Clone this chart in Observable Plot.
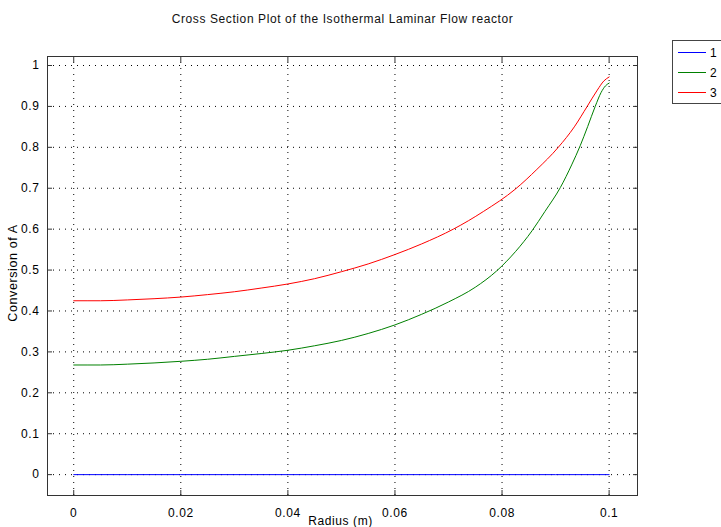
<!DOCTYPE html>
<html>
<head>
<meta charset="utf-8">
<script src="https://cdn.jsdelivr.net/npm/d3@7"></script>
<script src="https://cdn.jsdelivr.net/npm/@observablehq/plot@0.6"></script>
<style>
  html, body { margin: 0; padding: 0; background: #fff; }
  #wrap { position: relative; width: 721px; height: 527px; overflow: hidden; font-family: "Liberation Sans", Arial, sans-serif; }
  #legend { position: absolute; left: 672px; top: 40px; }
</style>
</head>
<body>
<div id="wrap"><div id="chart"></div><div id="legend"></div></div>
<script>
const title = "Cross Section Plot of the Isothermal Laminar Flow reactor";
const xLabel = "Radius (m)";
const yLabel = "Conversion of A";
const seriesNames = ["1", "2", "3"];
const seriesColors = ["#0000ff", "#008000", "#ff0000"];

const radius1 = [0, 0.02, 0.04, 0.06, 0.08, 0.1];
const conv1 = [0, 0, 0, 0, 0, 0];
const radius2 = [0, 0.005, 0.01, 0.015, 0.02, 0.025, 0.03, 0.035, 0.04, 0.045, 0.05, 0.055, 0.06, 0.065, 0.07, 0.075, 0.079, 0.0825, 0.0856, 0.088, 0.0909, 0.093, 0.0946, 0.096, 0.0974, 0.0985, 0.0993, 0.1];
const conv2 = [0.268, 0.268, 0.270, 0.273, 0.277, 0.282, 0.289, 0.296, 0.304, 0.315, 0.328, 0.345, 0.366, 0.392, 0.422, 0.458, 0.498, 0.545, 0.596, 0.643, 0.702, 0.757, 0.804, 0.851, 0.900, 0.934, 0.950, 0.957];
const radius3 = [0, 0.005, 0.01, 0.015, 0.02, 0.025, 0.03, 0.035, 0.04, 0.045, 0.05, 0.055, 0.06, 0.065, 0.0709, 0.0765, 0.0825, 0.0865, 0.0905, 0.0935, 0.0959, 0.0978, 0.099, 0.1];
const conv3 = [0.425, 0.425, 0.427, 0.430, 0.434, 0.440, 0.447, 0.456, 0.466, 0.479, 0.496, 0.515, 0.538, 0.564, 0.600, 0.643, 0.698, 0.746, 0.800, 0.850, 0.900, 0.940, 0.962, 0.972];

const xTicks = [0, 0.02, 0.04, 0.06, 0.08, 0.1];
const xTickLabels = ["0", "0.02", "0.04", "0.06", "0.08", "0.1"];
const yTicks = [0, 0.1, 0.2, 0.3, 0.4, 0.5, 0.6, 0.7, 0.8, 0.9, 1];
const yTickLabels = ["0", "0.1", "0.2", "0.3", "0.4", "0.5", "0.6", "0.7", "0.8", "0.9", "1"];

const radii = [radius1, radius2, radius3];
const convs = [conv1, conv2, conv3];
const data = [];
convs.forEach((vals, si) => vals.forEach((v, i) => data.push({r: radii[si][i], c: v, s: seriesNames[si]})));

const fmtX = d => xTickLabels[xTicks.indexOf(d)] ?? "";
const fmtY = d => yTickLabels[yTicks.indexOf(d)] ?? "";

const chart = Plot.plot({
  width: 721,
  height: 527,
  marginLeft: 47,
  marginRight: 84,
  marginTop: 56,
  marginBottom: 32,
  style: {fontFamily: "'Liberation Sans', Arial, sans-serif", fontSize: "12px", color: "#000", background: "#fff", letterSpacing: "0.6px"},
  x: {domain: [-0.0049, 0.1053]},
  y: {domain: [-0.051, 1.022]},
  color: {domain: seriesNames.slice(), range: seriesColors.slice()},
  marks: [
    Plot.gridX(xTicks, {stroke: "#000", strokeOpacity: 1, strokeDasharray: "1,5"}),
    Plot.gridY(yTicks, {stroke: "#000", strokeOpacity: 1, strokeDasharray: "1,5"}),
    Plot.line(data, {x: "r", y: "c", z: "s", stroke: "s", strokeWidth: 1, curve: "monotone-x"}),
    Plot.frame({stroke: "#333"}),
    Plot.axisX(xTicks, {anchor: "bottom", tickSize: 0, tickPadding: 13, tickFormat: fmtX, label: null, fill: "#000"}),
    Plot.axisX(xTicks, {anchor: "bottom", tickSize: -5, tickFormat: () => "", label: null, stroke: "#333"}),
    Plot.axisX(xTicks, {anchor: "top", tickSize: -5, tickFormat: () => "", label: null, stroke: "#333"}),
    Plot.axisY(yTicks, {anchor: "left", tickSize: 0, tickPadding: 8, tickFormat: fmtY, label: null, fill: "#000"}),
    Plot.axisY(yTicks, {anchor: "left", tickSize: -5, tickFormat: () => "", label: null, stroke: "#333"}),
    Plot.axisY(yTicks, {anchor: "right", tickSize: -5, tickFormat: () => "", label: null, stroke: "#333"}),
    Plot.text([title], {frameAnchor: "top", dy: -42, text: d => d, fontSize: 12, fill: "#111"}),
    Plot.text([xLabel], {frameAnchor: "bottom", dx: -2, dy: 29, text: d => d, fontSize: 12}),
    Plot.text([yLabel], {frameAnchor: "left", textAnchor: "middle", lineAnchor: "middle", dx: -35, dy: -3, rotate: -90, text: d => d, fontSize: 12.5, style: "letter-spacing:1px"})
  ]
});
document.getElementById("chart").appendChild(chart);

// legend
const lg = d3.select("#legend").append("svg").attr("width", 49).attr("height", 65)
  .style("font-family", "'Liberation Sans', Arial, sans-serif").style("font-size", "12px").style("display", "block");
lg.append("rect").attr("x", 0.5).attr("y", 0.5).attr("width", 60).attr("height", 63)
  .attr("fill", "#fff").attr("stroke", "#444");
seriesNames.forEach((name, i) => {
  const cy = 12.5 + i * 20;
  lg.append("line").attr("x1", 6).attr("x2", 34).attr("y1", cy).attr("y2", cy)
    .attr("stroke", seriesColors[i]).attr("stroke-width", 1);
  lg.append("text").attr("x", 38).attr("y", cy).attr("dy", "0.35em").attr("fill", "#000").text(name);
});
</script>
</body>
</html>
